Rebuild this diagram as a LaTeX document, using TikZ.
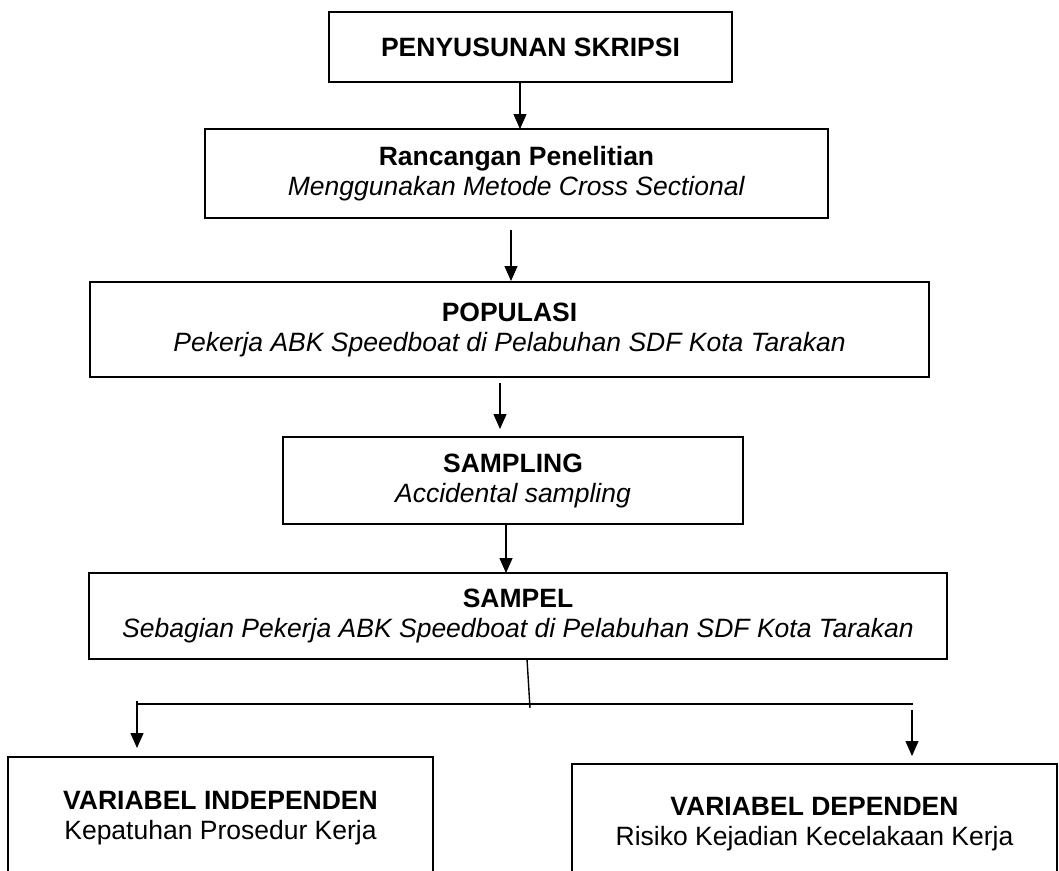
\documentclass[tikz,border=0pt]{standalone}
\usepackage{fontspec}
\setmainfont{Liberation Sans}
\usetikzlibrary{arrows.meta}
\tikzset{
  boxnode/.style={draw=black, line width=2.6pt, inner sep=0pt, align=center,
    font=\fontsize{26.5}{30}\selectfont},
  arr/.style={line width=1.3pt, -{Triangle[length=15pt,width=13pt]}},
  conn/.style={line width=1.4pt}
}
\begin{document}
\begin{tikzpicture}[x=1pt,y=-1pt]
\useasboundingbox (0,0) rectangle (1059,870);
\node[boxnode, minimum width=403pt, minimum height=70pt] (b1) at (530.5,47) {\textbf{PENYUSUNAN SKRIPSI}};
\node[boxnode, minimum width=623pt, minimum height=89pt] (b2) at (516.5,173.5) {\textbf{Rancangan Penelitian}\\\textit{Menggunakan Metode Cross Sectional}};
\node[boxnode, minimum width=839pt, minimum height=95pt] (b3) at (509.5,329.5) {\textbf{POPULASI}\\\textit{Pekerja ABK Speedboat di Pelabuhan SDF Kota Tarakan}};
\node[boxnode, minimum width=460pt, minimum height=87pt] (b4) at (513,480.5) {\textbf{SAMPLING}\\\textit{Accidental sampling}};
\node[boxnode, minimum width=858pt, minimum height=86pt] (b5) at (518,616) {\textbf{SAMPEL}\\\textit{Sebagian Pekerja ABK Speedboat di Pelabuhan SDF Kota Tarakan}};
\node[boxnode, minimum width=425pt, minimum height=122pt] (b6) at (220.5,818) {\textbf{VARIABEL INDEPENDEN}\\Kepatuhan Prosedur Kerja};
\node[boxnode, minimum width=485pt, minimum height=120pt] (b7) at (814.5,824) {\textbf{VARIABEL DEPENDEN}\\Risiko Kejadian Kecelakaan Kerja};
% connector points
\coordinate (a1s) at (520,82);
\coordinate (a1e) at (520,129);
\coordinate (a2s) at (511,230);
\coordinate (a2e) at (511,281);
\coordinate (a3s) at (500,383);
\coordinate (a3e) at (500,429);
\coordinate (a4s) at (506,524);
\coordinate (a4e) at (506,573);
\coordinate (vs) at (527,659);
\coordinate (ve) at (530,708);
\coordinate (hl) at (137,704);
\coordinate (hr) at (913,704);
\coordinate (l1) at (137,701);
\coordinate (l2) at (137,748);
\coordinate (r1) at (912,710);
\coordinate (r2) at (912,756);
\draw[arr] (a1s) -- (a1e);
\draw[arr] (a2s) -- (a2e);
\draw[arr] (a3s) -- (a3e);
\draw[arr] (a4s) -- (a4e);
\draw[conn] (vs) -- (ve);
\draw[conn] (hl) -- (hr);
\draw[arr] (l1) -- (l2);
\draw[arr] (r1) -- (r2);
\end{tikzpicture}
\end{document}
